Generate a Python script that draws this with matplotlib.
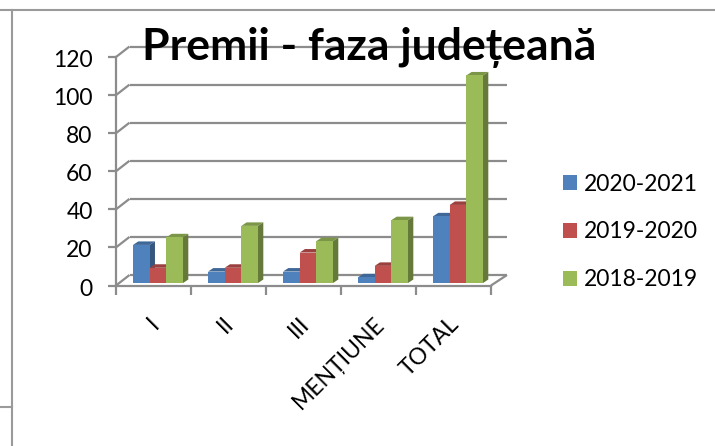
import matplotlib
matplotlib.use("Agg")
import matplotlib.pyplot as plt
from matplotlib.lines import Line2D
from matplotlib.patches import Patch
from matplotlib.transforms import ScaledTranslation

plt.rcParams['font.family'] = ['Lato', 'DejaVu Sans']

categories = ['I', 'II', 'III', 'MENȚIUNE', 'TOTAL']
y_ticks = [0, 20, 40, 60, 80, 100, 120]
series_names = ['2020-2021', '2019-2020', '2018-2019']
v_2020 = [20, 6, 6, 3, 35]
v_2019 = [8, 8, 16, 9, 41]
v_2018 = [24, 30, 22, 33, 109]

front = ['#4F81BD', '#C0504D', '#9BBB59']
top = ['#3F6797', '#9A403E', '#7C9647']
side = ['#35567F', '#7F3634', '#65793A']
GRID = '#8C8C8C'

W, H = 715, 446
fig = plt.figure(figsize=(W / 100, H / 100), dpi=100)
ax = fig.add_axes([116 / W, (H - 285.5) / H, 375 / W, 228.5 / H])
ax.set_xlim(0, 5)
ax.set_ylim(0, 120)

# pixels to data units, the fake 3d is only an oblique offset
px_x = 5 / 375
px_y = 120 / 228.5
wall_dx, wall_dy = 16 * px_x, 10.5 * px_y
bar_dx, bar_dy = 5.3 * px_x, 3.5 * px_y
lift = 2.5 * px_y
start, bar_w = 17 * px_x, 16.67 * px_x

line = dict(color=GRID, lw=1.6, clip_on=False, solid_capstyle='butt')
for t in y_ticks:
    ax.plot([13.5 * px_x, 5 + wall_dx], [t + wall_dy, t + wall_dy], zorder=1, **line)
    ax.plot([0, 13.5 * px_x], [t, t + wall_dy], zorder=1, **line)
ax.plot([5, 5 + wall_dx], [0, wall_dy], zorder=1, **line)

for j, vals in enumerate([v_2020, v_2019, v_2018]):
    for i, v in enumerate(vals):
        x0 = i + start + j * bar_w
        x1 = x0 + bar_w
        y1 = v + lift
        z = 3 + j
        ax.fill([x0, x1, x1 + bar_dx, x0 + bar_dx], [y1, y1, y1 + bar_dy, y1 + bar_dy],
                color=top[j], lw=0, zorder=z, clip_on=False)
        ax.fill([x1, x1 + bar_dx, x1 + bar_dx, x1], [lift, lift + bar_dy, y1 + bar_dy, y1],
                color=side[j], lw=0, zorder=z, clip_on=False)
        ax.bar(x0, v, width=bar_w, bottom=lift, align='edge', color=front[j], lw=0,
               zorder=z, clip_on=False)

for s in ['top', 'right']:
    ax.spines[s].set_visible(False)
for s in ['left', 'bottom']:
    ax.spines[s].set_color(GRID)
    ax.spines[s].set_linewidth(1.6)

ax.set_yticks(y_ticks)
ax.tick_params(axis='y', length=5.8, width=1.6, color=GRID, pad=11, labelsize=16.5, labelcolor='black')
ax.set_xticks(range(6), labels=[''] * 6)
ax.tick_params(axis='x', which='major', length=6.5, width=1.6, color=GRID)
ax.set_xticks([i + 0.5 for i in range(5)], labels=categories, minor=True)
ax.tick_params(axis='x', which='minor', length=0, pad=20, labelsize=16.5)

# small nudges in points so the labels land where the reference has them
shift_x = ScaledTranslation(-5 / 100, 0, fig.dpi_scale_trans)
shift_y = ScaledTranslation(0, -1.5 / 100, fig.dpi_scale_trans)
for lab in ax.get_xticklabels(minor=True):
    lab.set_rotation(45)
    lab.set_ha('right')
    lab.set_rotation_mode('anchor')
    lab.set_transform(lab.get_transform() + shift_x)
for lab in ax.get_yticklabels():
    lab.set_transform(lab.get_transform() + shift_y)

fig.text(369 / W, (H - 47) / H, 'Premii - faza județeană', ha='center', va='center',
         fontsize=32, fontweight='bold', color='black', zorder=10)

handles = [Patch(color=c, lw=0) for c in front]
fig.legend(handles, series_names, loc='center left', bbox_to_anchor=(563 / W, (H - 232) / H),
           frameon=False, fontsize=16.5, handlelength=0.63, handleheight=0.63,
           handletextpad=0.26, labelspacing=1.17, borderpad=0, borderaxespad=0)

# page table lines around the pasted chart
edge = dict(color='#9A9A9A', lw=1.5, transform=fig.transFigure)
fig.add_artist(Line2D([0, 1], [(H - 10) / H] * 2, **edge))
fig.add_artist(Line2D([12 / W, 12 / W], [0, (H - 10) / H], **edge))
fig.add_artist(Line2D([0, 12 / W], [(H - 406.5) / H] * 2, **edge))

fig.savefig('out.png', dpi=100)
